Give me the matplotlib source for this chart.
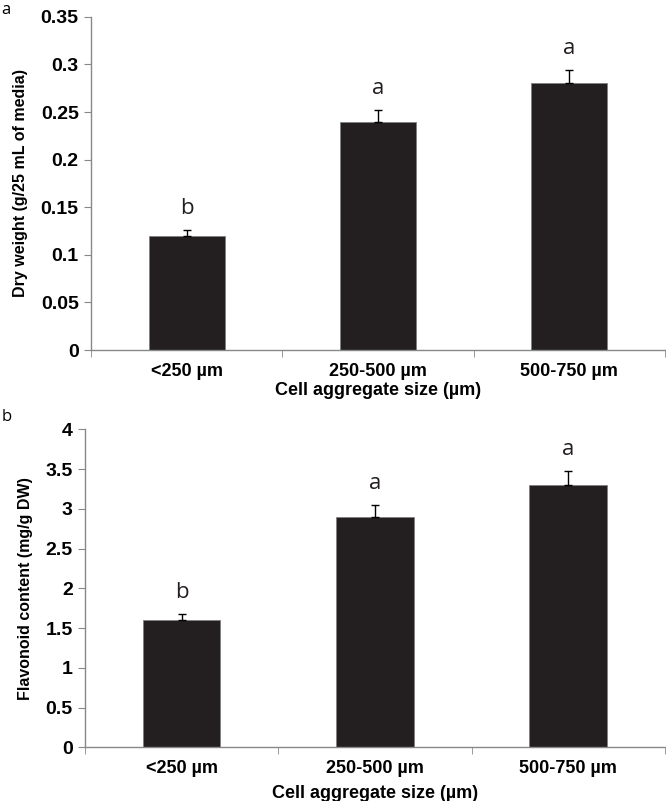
import numpy as np
import matplotlib
matplotlib.use("Agg")
import matplotlib.pyplot as plt
from matplotlib import font_manager

# data
sizes = ['<250 µm', '250-500 µm', '500-750 µm']
dry_weight = [0.12, 0.24, 0.28]
dry_err = [0.006, 0.012, 0.014]
dry_letters = ['b', 'a', 'a']
flavonoid = [1.6, 2.9, 3.3]
flav_err = [0.08, 0.15, 0.17]
flav_letters = ['b', 'a', 'a']

names = sorted(set(f.name for f in font_manager.fontManager.ttflist))
narrow = 'Liberation Sans Narrow' if 'Liberation Sans Narrow' in names else 'Liberation Sans'

plt.rcParams['font.family'] = [narrow, 'DejaVu Sans']

fig = plt.figure(figsize=(6.66, 8.01), dpi=100)
ax1 = fig.add_axes([0.137, 0.563, 0.861, 0.416])
ax2 = fig.add_axes([0.128, 0.067, 0.870, 0.397])

def panel(ax, vals, errs, letters, ymax, step, ylabel, fmt, off, tpad, lpad):
    x = np.arange(len(vals))
    ax.bar(x, vals, width=0.4, color='#231f20', edgecolor='#808080', linewidth=0.6, zorder=2)
    ax.errorbar(x, vals, yerr=[np.zeros(len(errs)), errs], fmt='none',
                ecolor='black', elinewidth=1.0, capsize=3, capthick=1.0, zorder=3)
    for xi, v, e, l in zip(x, vals, errs, letters):
        ax.text(xi, v + e + off, l, ha='center', va='bottom', fontsize=16,
                family=['Open Sans', 'DejaVu Sans'], color='#231f20')
    ax.set_xlim(-0.5, len(vals) - 0.5)
    ax.set_ylim(0, ymax)
    ticks = np.arange(0, ymax + step / 2, step)
    ax.set_yticks(ticks)
    ax.set_yticklabels([fmt(t) for t in ticks], fontsize=14, fontweight='bold')
    ax.set_xticks(x)
    ax.set_xticklabels(sizes, fontsize=13, fontweight='bold')
    ax.set_xticks(np.arange(-0.5, len(vals)), minor=True)
    ax.tick_params(axis='x', which='major', length=0, pad=tpad)
    ax.tick_params(axis='x', which='minor', length=5, color='#888888', direction='out')
    ax.tick_params(axis='y', length=5, color='#888888', direction='out', pad=4)
    for s in ['top', 'right']:
        ax.spines[s].set_visible(False)
    for s in ['left', 'bottom']:
        ax.spines[s].set_color('#888888')
        ax.spines[s].set_linewidth(1.0)
    ax.set_ylabel(ylabel, fontsize=11.5, fontweight='bold', labelpad=9)
    ax.set_xlabel('Cell aggregate size (µm)', fontsize=13, fontweight='bold', labelpad=lpad)

def f1(t):
    s = ('%.2f' % t).rstrip('0').rstrip('.')
    return s if s else '0'

panel(ax1, dry_weight, dry_err, dry_letters, 0.35, 0.05,
      'Dry weight (g/25 mL of media)', f1, 0.012, 9, 2)
panel(ax2, flavonoid, flav_err, flav_letters, 4, 0.5,
      'Flavonoid content (mg/g DW)', f1, 0.14, 9, 6)

fig.text(0.002, 0.997, 'a', fontsize=12, va='top', family=['Open Sans', 'DejaVu Sans'])
fig.text(0.002, 0.49, 'b', fontsize=12, va='top', family=['Open Sans', 'DejaVu Sans'])

fig.savefig('out.png', dpi=100)
